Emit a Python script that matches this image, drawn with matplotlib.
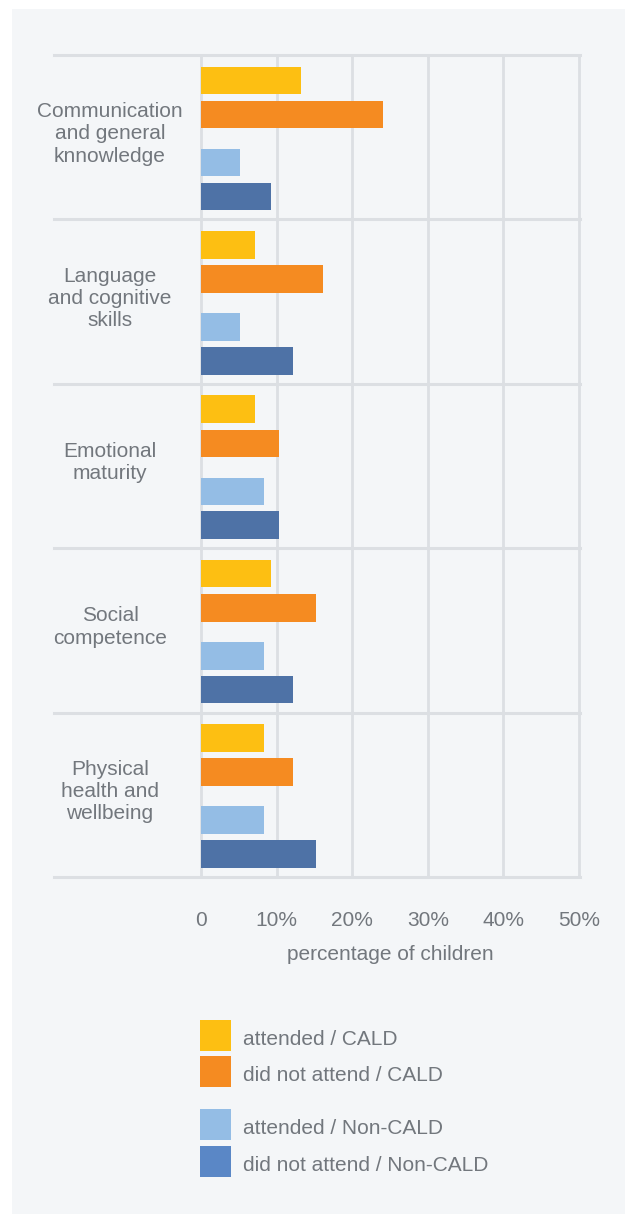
import matplotlib
matplotlib.use("Agg")
import matplotlib.pyplot as plt
import matplotlib.transforms as mtransforms
from matplotlib.patches import Rectangle

categories = ["Communication\nand general\nknnowledge",
              "Language\nand cognitive\nskills",
              "Emotional\nmaturity",
              "Social\ncompetence",
              "Physical\nhealth and\nwellbeing"]
series_names = ["attended / CALD", "did not attend / CALD",
                "attended / Non-CALD", "did not attend / Non-CALD"]
attended_cald = [13.2, 7.2, 7.2, 9.2, 8.3]
not_attended_cald = [24.1, 16.2, 10.3, 15.2, 12.2]
attended_noncald = [5.2, 5.2, 8.3, 8.3, 8.3]
not_attended_noncald = [9.2, 12.2, 10.3, 12.2, 15.2]
xticks = [0, 10, 20, 30, 40, 50]
xtick_labels = ["0", "10%", "20%", "30%", "40%", "50%"]

bar_colors = ["#fdbf12", "#f58b21", "#94bde5", "#4e72a6"]
legend_colors = ["#fdbf12", "#f58b21", "#94bde5", "#5a87c6"]
offsets = [-0.345, -0.138, 0.154, 0.360]
bar_h = 0.168
text_color = "#72777d"
grid_color = "#dcdfe3"
FONT = ["Liberation Sans", "DejaVu Sans"]
FS = 15.0

W, H = 625, 1214
fig = plt.figure(figsize=(W / 100, H / 100), dpi=100)
fig.patch.set_facecolor("white")
fig.patches.append(Rectangle((12 / W, 0), 1 - 12 / W, 1 - 9 / H,
                             transform=fig.transFigure, facecolor="#f4f6f8",
                             edgecolor="none", zorder=-10))

x0, x1 = 201, 579
y_top, y_bot = 55, 877
ax = fig.add_axes([x0 / W, 1 - y_bot / H, (x1 - x0) / W, (y_bot - y_top) / H])
ax.set_zorder(5)
ax.set_facecolor("none")
ax.set_xlim(0, 50)
ax.set_ylim(len(categories) - 0.5, -0.5)
for s in ax.spines.values():
    s.set_visible(False)

series = [attended_cald, not_attended_cald, attended_noncald, not_attended_noncald]
ypos = list(range(len(categories)))
for vals, col, off in zip(series, bar_colors, offsets):
    ax.barh([y + off for y in ypos], vals, height=bar_h, color=col,
            zorder=3, linewidth=0)

# vertical grid
for xt in xticks:
    ax.axvline(xt, color=grid_color, lw=2.0, zorder=1, clip_on=False)
# horizontal separators extending left
xmin_ext = (54 - x0) / (x1 - x0)
for b in [y - 0.5 for y in ypos] + [len(categories) - 0.5]:
    ax.axhline(b, xmin=xmin_ext, xmax=1.0 + 1.0 / (x1 - x0), color=grid_color,
               lw=2.2, zorder=1, clip_on=False)

ax.set_xticks(xticks)
ax.set_xticklabels(xtick_labels, fontsize=FS, color=text_color, family=FONT)
ax.tick_params(axis="x", length=0, pad=24.5)
ax.set_yticks([])
ax.set_xlabel("percentage of children", fontsize=FS, color=text_color,
              family=FONT, labelpad=11)

trans = mtransforms.blended_transform_factory(fig.transFigure, ax.transData)
for y, lab in zip(ypos, categories):
    ax.text(110 / W, y - 0.02, lab, transform=trans, ha="center", va="center",
            fontsize=FS, color=text_color, family=FONT,
            linespacing=1.22, clip_on=False)

# legend
leg_y = [1020, 1056, 1109, 1146]
for name, col, yy in zip(series_names, legend_colors, leg_y):
    fig.patches.append(Rectangle((200 / W, 1 - (yy + 31) / H), 31 / W, 31 / H,
                                 transform=fig.transFigure, facecolor=col,
                                 edgecolor="none", zorder=2))
    fig.text(243 / W, 1 - (yy + 19.5) / H, name, ha="left", va="center",
             fontsize=FS, color=text_color, family=FONT)

fig.savefig("out.png", dpi=100, facecolor=fig.get_facecolor())
